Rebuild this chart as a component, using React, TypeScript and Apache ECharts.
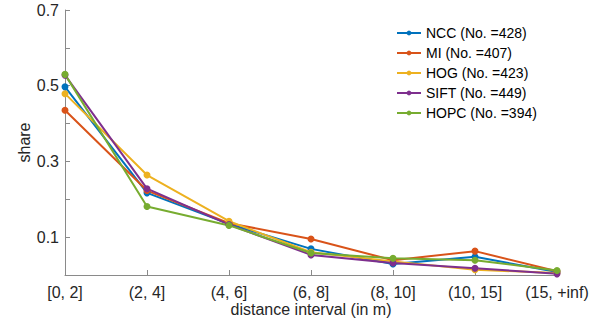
import React, { useEffect, useRef } from "react";
import * as echarts from "echarts";

const categories = ["[0, 2]", "(2, 4]", "(4, 6]", "(6, 8]", "(8, 10]", "(10, 15]", "(15, +inf)"];
const seriesNames = ["NCC (No. =428)", "MI (No. =407)", "HOG (No. =423)", "SIFT (No. =449)", "HOPC (No. =394)"];
const ncc = [0.497, 0.217, 0.135, 0.069, 0.029, 0.048, 0.008];
const mi = [0.435, 0.223, 0.137, 0.095, 0.039, 0.063, 0.01];
const hog = [0.479, 0.264, 0.142, 0.06, 0.036, 0.014, 0.005];
const sift = [0.528, 0.228, 0.133, 0.053, 0.032, 0.018, 0.003];
const hopc = [0.53, 0.181, 0.131, 0.058, 0.044, 0.039, 0.012];
const colors = ["#0072BD", "#D95319", "#EDB120", "#7E2F8E", "#77AC30"];
const yTickLabels = ["0.1", "0.3", "0.5", "0.7"];

export default function App() {
  const ref = useRef<HTMLDivElement>(null);
  useEffect(() => {
    if (!ref.current) return;
    const chart = echarts.init(ref.current, null, { renderer: "svg" });
    const data = [ncc, mi, hog, sift, hopc];
    const font = "Liberation Sans, Arial, Helvetica, sans-serif";
    chart.setOption({
      animation: false,
      color: colors,
      textStyle: { fontFamily: font },
      grid: { left: 65, right: 46, top: 10, bottom: 54, containLabel: false },
      legend: {
        orient: "vertical",
        left: 396,
        top: 26,
        padding: 0,
        itemWidth: 24,
        itemHeight: 6,
        itemGap: 6,
        textStyle: { fontSize: 14, color: "#000", fontFamily: font },
        data: seriesNames,
      },
      xAxis: {
        type: "category",
        data: categories,
        boundaryGap: false,
        name: "distance interval (in m)",
        nameLocation: "middle",
        nameGap: 26,
        nameMoveOverlap: false,
        nameTextStyle: { fontSize: 16, lineHeight: 16, color: "#262626", fontFamily: font },
        axisLine: { lineStyle: { color: "#8a8a8a", width: 1 } },
        axisTick: { inside: true, length: 5, interval: 0, lineStyle: { color: "#8a8a8a" } },
        axisLabel: { fontSize: 16, lineHeight: 16, color: "#262626", margin: 9, interval: 0, fontFamily: font },
        splitLine: { show: false },
      },
      yAxis: {
        type: "value",
        min: 0,
        max: 0.7,
        interval: 0.1,
        name: "share",
        nameLocation: "middle",
        nameGap: 33,
        nameMoveOverlap: false,
        nameTextStyle: { fontSize: 16, color: "#262626", fontFamily: font },
        axisLine: { show: true, lineStyle: { color: "#8a8a8a", width: 1 } },
        axisTick: { show: true, inside: true, length: 5, lineStyle: { color: "#8a8a8a" } },
        axisLabel: {
          fontSize: 16,
          color: "#262626",
          margin: 6,
          fontFamily: font,
          formatter: (v: number) => {
            const s = v.toFixed(1);
            return yTickLabels.includes(s) ? s : "";
          },
        },
        splitLine: { show: false },
      },
      series: seriesNames.map((n, i) => ({
        name: n,
        type: "line",
        data: data[i],
        symbol: "circle",
        symbolSize: 7,
        lineStyle: { width: 2, color: colors[i] },
        itemStyle: { color: colors[i] },
      })),
    });
    return () => chart.dispose();
  }, []);
  return <div ref={ref} style={{ width: 603, height: 329, position: "absolute", left: 0, top: 0, background: "#fff" }} />;
}
